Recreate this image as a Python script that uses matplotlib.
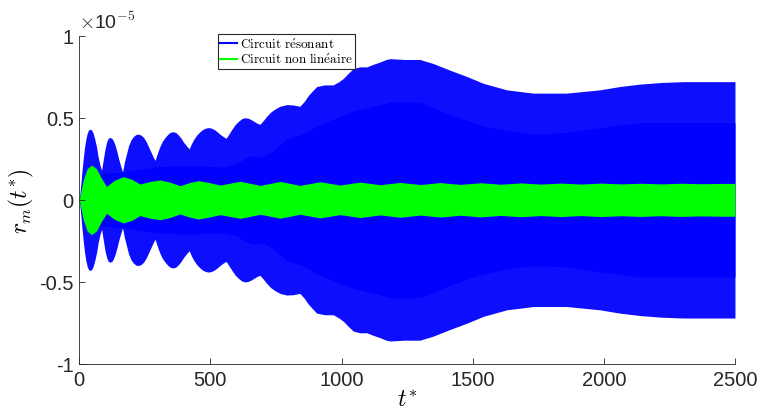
import matplotlib
matplotlib.use("Agg")
import matplotlib.pyplot as plt
from matplotlib.lines import Line2D

plt.rcParams["font.family"] = ["Liberation Sans", "DejaVu Sans"]
plt.rcParams["mathtext.fontset"] = "cm"

# values in units of 1e-5
# outer envelope of the resonant circuit signal (one row per lobe)
t_outer = [0, 5, 10, 15, 20, 25, 30, 35, 41, 47, 53, 59, 66, 72, 79, 85,
           92, 98, 104, 110, 117, 124, 130, 137, 144, 150, 157, 165,
           172, 180, 188, 197, 206, 216, 225, 235, 245, 255, 265, 275, 282, 289,
           297, 306, 316, 327, 338, 348, 358, 368, 378, 388, 398, 408, 419,
           427, 437, 448, 460, 472, 482, 492, 503, 515, 527, 538, 549, 560,
           570, 582, 595, 608, 620, 632, 644, 656, 668, 680, 689,
           700, 715, 730, 748, 765, 791, 815, 841,
           858, 873, 890, 905, 935, 968, 990, 1007, 1025, 1045, 1070, 1096,
           1120, 1147, 1170, 1185, 1240, 1299, 1350, 1413, 1480, 1540, 1630,
           1731, 1858, 1985, 2060, 2138, 2220, 2303, 2400, 2500]
outer = [0, 0.08, 0.17, 0.25, 0.32, 0.37, 0.405, 0.425, 0.43, 0.425, 0.405, 0.37, 0.32, 0.26, 0.21, 0.18,
         0.25, 0.31, 0.35, 0.375, 0.38, 0.375, 0.36, 0.33, 0.29, 0.25, 0.21, 0.17,
         0.23, 0.28, 0.33, 0.365, 0.385, 0.398, 0.40, 0.395, 0.38, 0.355, 0.32, 0.285, 0.26, 0.24,
         0.28, 0.32, 0.355, 0.38, 0.40, 0.412, 0.415, 0.41, 0.395, 0.375, 0.35, 0.33, 0.31,
         0.34, 0.37, 0.395, 0.415, 0.43, 0.437, 0.44, 0.437, 0.428, 0.413, 0.398, 0.385, 0.375,
         0.40, 0.43, 0.46, 0.48, 0.495, 0.50, 0.497, 0.488, 0.476, 0.465, 0.46,
         0.48, 0.51, 0.535, 0.555, 0.57, 0.58, 0.578, 0.57,
         0.60, 0.635, 0.665, 0.69, 0.70, 0.70, 0.72, 0.74, 0.77, 0.80, 0.81, 0.81,
         0.825, 0.84, 0.855, 0.86, 0.855, 0.855, 0.83, 0.79, 0.75, 0.71, 0.67,
         0.65, 0.65, 0.67, 0.69, 0.705, 0.715, 0.72, 0.72, 0.72]

# dense core of the resonant circuit signal
t_inner = [0, 20, 41, 85, 165, 289, 419, 549, 600, 640, 664, 700, 740, 791,
           850, 918, 980, 1045, 1147, 1200, 1300, 1413, 1540, 1640, 1731,
           1858, 1985, 2138, 2303, 2500]
inner = [0, 0.15, 0.18, 0.16, 0.17, 0.2, 0.21, 0.2, 0.22, 0.26, 0.27, 0.26,
         0.30, 0.37, 0.40, 0.46, 0.50, 0.54, 0.58, 0.60, 0.595, 0.52, 0.45,
         0.42, 0.40, 0.41, 0.44, 0.47, 0.47, 0.47]

# envelope of the nonlinear circuit signal
t_green = [0, 15, 30, 47, 65, 85, 104, 135, 168, 200, 231, 270, 308, 345, 384,
           420, 454, 495, 537, 613, 690, 766, 841, 918, 994, 1070, 1147, 1223,
           1300, 1376, 1453, 1530, 1606, 1683, 1759, 1836, 1912, 1989, 2065,
           2142, 2218, 2295, 2371, 2448, 2500]
green = [0, 0.12, 0.19, 0.212, 0.19, 0.13, 0.082, 0.12, 0.141, 0.125, 0.096,
         0.112, 0.121, 0.108, 0.086, 0.105, 0.117, 0.105, 0.09, 0.113, 0.088,
         0.112, 0.088, 0.11, 0.09, 0.108, 0.092, 0.106, 0.093, 0.105, 0.094,
         0.104, 0.095, 0.103, 0.096, 0.102, 0.096, 0.102, 0.097, 0.101, 0.097,
         0.101, 0.098, 0.1, 0.1]

x_ticks = [0, 500, 1000, 1500, 2000, 2500]
y_ticks = [-1, -0.5, 0, 0.5, 1]
y_tick_labels = ["-1", "-0.5", "0", "0.5", "1"]

BLUE = "#0000ff"
GREEN = "#00ff00"

fig = plt.figure(figsize=(7.61, 4.14), dpi=100)
ax = fig.add_axes([0.1042, 0.1184, 0.8616, 0.793])

ax.fill_between(t_outer, [-v for v in outer], outer, color="#0e0eff", lw=0)
ax.fill_between(t_inner, [-v for v in inner], inner, color=BLUE, lw=0)
ax.fill_between(t_green, [-v for v in green], green, color=GREEN, lw=0)

ax.set_xlim(0, 2500)
ax.set_ylim(-1, 1)
ax.set_xticks(x_ticks)
ax.set_yticks(y_ticks)
ax.set_yticklabels(y_tick_labels)

for s in ["top", "right"]:
    ax.spines[s].set_visible(False)
for s in ["left", "bottom"]:
    ax.spines[s].set_color("#262626")
    ax.spines[s].set_linewidth(0.6)
ax.tick_params(direction="in", length=4.5, width=0.6, colors="#262626",
               labelsize=14.5, pad=4)

ax.text(0.0, 1.012, r"$\times$10$^{-5}$", transform=ax.transAxes,
        fontsize=14, color="#262626", ha="left", va="bottom")

ax.set_xlabel(r"$t^{*}$", fontsize=17, labelpad=0.5)
ax.set_ylabel(r"$r_m(t^{*})$", fontsize=17, labelpad=2)

handles = [Line2D([], [], color=BLUE, lw=1.5), Line2D([], [], color=GREEN, lw=1.5)]
labels = [r"$\mathrm{Circuit\ r\acute{e}sonant}$",
          r"$\mathrm{Circuit\ non\ lin\acute{e}aire}$"]
leg = ax.legend(handles, labels, loc="upper left", bbox_to_anchor=(0.211, 1.005),
                fontsize=9.5, frameon=True, fancybox=False, framealpha=1,
                edgecolor="#262626", borderpad=0.2, handlelength=1.3,
                handletextpad=0.2, labelspacing=0.1, borderaxespad=0)
leg.get_frame().set_linewidth(0.8)

fig.savefig("out.png", dpi=100, facecolor="white")
